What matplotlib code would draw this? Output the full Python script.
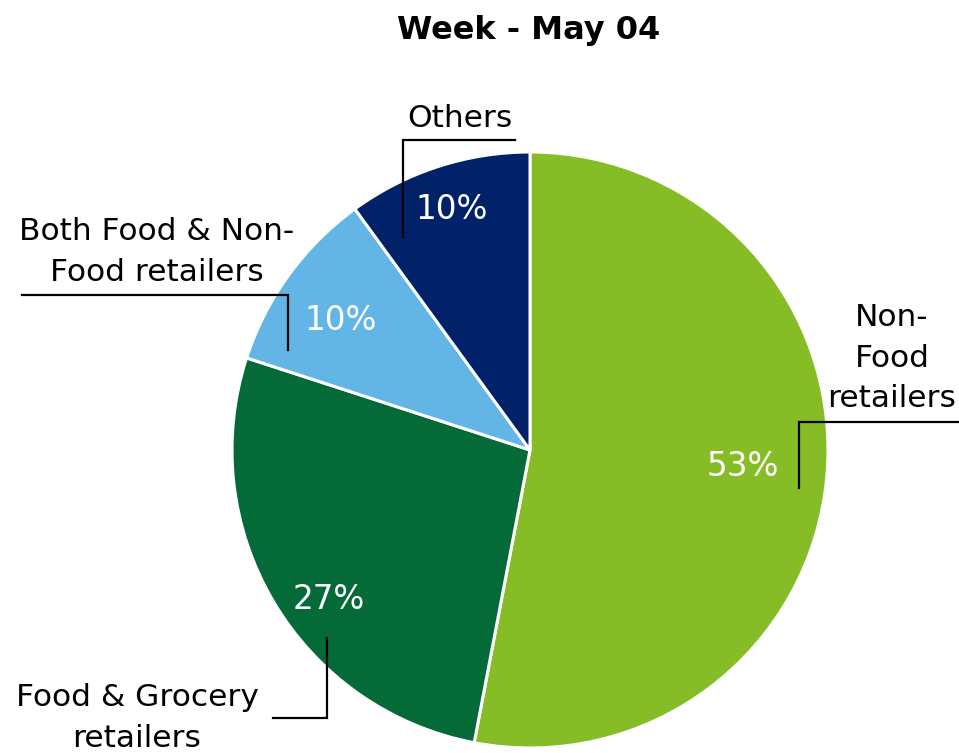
import numpy as np
import matplotlib.pyplot as plt

plt.rcParams['font.family'] = ['DejaVu Sans']

# data
categories = ["Non-\nFood\nretailers", "Food & Grocery\nretailers",
              "Both Food & Non-\nFood retailers", "Others"]
shares = [53, 27, 10, 10]
colors = ["#86BC25", "#046A38", "#62B5E5", "#012169"]

W, H = 959, 753
fig = plt.figure(figsize=(W / 100, H / 100), dpi=100)
ax = fig.add_axes([0, 0, 1, 1])
ax.set_xlim(0, W)
ax.set_ylim(0, H)
ax.set_aspect("equal")
ax.axis("off")

def py(y):
    # pixel row (from top) -> data y
    return H - y

cx, cy, r = 530, py(450), 298
wedges, _ = ax.pie(shares, colors=colors, startangle=90, counterclock=False,
                   center=(cx, cy), radius=r,
                   wedgeprops=dict(edgecolor="white", linewidth=2.2))
ax.set_xlim(0, W)
ax.set_ylim(0, H)

# percent labels inside the wedges
pct_dist = [0.715, 0.84, 0.77, 0.85]
pct_shift = [1.0, 6.0, 1.5, 0.0]
for w, s, d, sh in zip(wedges, shares, pct_dist, pct_shift):
    ang = np.deg2rad((w.theta1 + w.theta2) / 2 + sh)
    ax.text(cx + d * r * np.cos(ang), cy + d * r * np.sin(ang), f"{s}%",
            color="white", fontsize=23.5, ha="center", va="center")

# category labels with elbow leader lines
label_pos = [(892, 358), (137, 718), (157, 252), (460, 118)]
leaders = [
    [(959, 422), (799, 422), (799, 488)],
    [(273, 718), (327, 718), (327, 638)],
    [(22, 295), (288, 295), (288, 350)],
    [(515, 140), (403, 140), (403, 237)],
]
for name, (lx, ly), pts in zip(categories, label_pos, leaders):
    ax.text(lx, py(ly), name, fontsize=22.5, ha="center", va="center",
            linespacing=1.5)
    xs = [p[0] for p in pts]
    ys = [py(p[1]) for p in pts]
    ax.plot(xs, ys, color="black", lw=1.6, solid_joinstyle="miter")

ax.text(529, py(30), "Week - May 04", fontsize=23, fontweight="bold",
        ha="center", va="center")

plt.savefig("out.png", dpi=100)
